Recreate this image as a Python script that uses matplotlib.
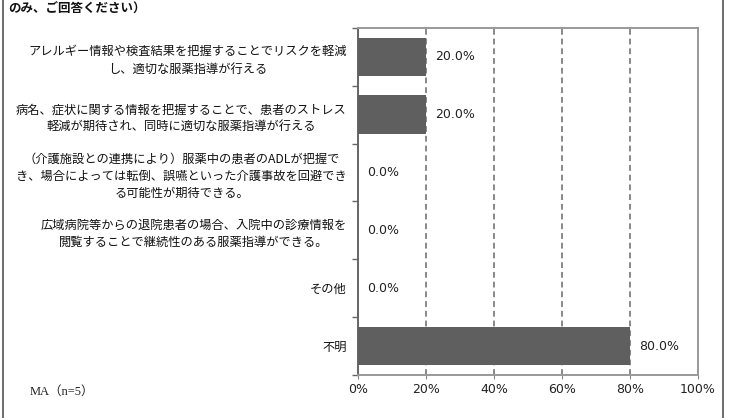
import matplotlib
matplotlib.use("Agg")
import matplotlib.pyplot as plt
from matplotlib.lines import Line2D
from matplotlib.ticker import FixedLocator, PercentFormatter

plt.rcParams['font.family'] = ['Noto Sans CJK JP', 'DejaVu Sans']

# データ
categories = [
    'アレルギー情報や検査結果を把握することでリスクを軽減\nし、適切な服薬指導が行える',
    '病名、症状に関する情報を把握することで、患者のストレス\n軽減が期待され、同時に適切な服薬指導が行える',
    '（介護施設との連携により）服薬中の患者のADLが把握で\nき、場合によっては転倒、誤嚥といった介護事故を回避でき\nる可能性が期待できる。',
    '広域病院等からの退院患者の場合、入院中の診療情報を\n閲覧することで継続性のある服薬指導ができる。',
    'その他',
    '不明',
]
values = [20.0, 20.0, 0.0, 0.0, 0.0, 80.0]
xticks = [0, 20, 40, 60, 80, 100]

fig = plt.figure(figsize=(7.3, 4.18), dpi=100)
ax = fig.add_axes([0.4904, 0.103, 0.4658, 0.830])

pos = list(range(len(categories)))
ax.barh(pos, values, height=0.67, color='#5f5f5f', zorder=3)

for p, v in zip(pos, values):
    ax.text(v + 2.6, p, f'{v:.1f}%', va='center', ha='left', fontsize=9,
            family='DejaVu Sans', color='#222222', zorder=4)

ax.set_xlim(0, 100)
ax.set_ylim(len(categories) - 0.5, -0.5)
ax.set_xticks(xticks)
ax.xaxis.set_major_formatter(PercentFormatter(decimals=0))
ax.tick_params(axis='x', labelsize=9, length=3, color='#888888', labelcolor='#222222', pad=3)
for lab in ax.get_xticklabels():
    lab.set_family('DejaVu Sans')

ax.set_yticks(pos)
ax.set_yticklabels(categories, fontsize=8.8, color='#111111')
for lab in ax.get_yticklabels():
    lab.set_multialignment('center')
    lab.set_linespacing(1.4)
ax.tick_params(axis='y', which='major', length=0, pad=8)
ax.yaxis.set_minor_locator(FixedLocator([p - 0.5 for p in pos] + [len(pos) - 0.5]))
ax.tick_params(axis='y', which='minor', length=4, width=1, color='#666666')

ax.grid(axis='x', linestyle=(0, (3, 2)), color='#888888', linewidth=1.4, zorder=1)
for side in ['top', 'right', 'bottom']:
    ax.spines[side].set_color('#999999')
    ax.spines[side].set_linewidth(1.4)
ax.spines['left'].set_color('#666666')
ax.spines['left'].set_linewidth(1.4)

# 外枠
fig.add_artist(Line2D([3 / 730, 3 / 730], [0, 1], color='#555555', linewidth=1.2))
fig.add_artist(Line2D([723 / 730, 723 / 730], [0, 1], color='#555555', linewidth=1.2))

fig.text(8 / 730, 1 - 9 / 418, 'のみ、ご回答ください）', fontsize=9, fontweight='bold',
         va='center', ha='left', color='#111111')
fig.text(30 / 730, 1 - 392 / 418, 'MA（n=5）', fontsize=9, va='center', ha='left',
         family=['Liberation Serif', 'Noto Sans CJK JP'], color='#222222')

fig.savefig('out.png', dpi=100)
